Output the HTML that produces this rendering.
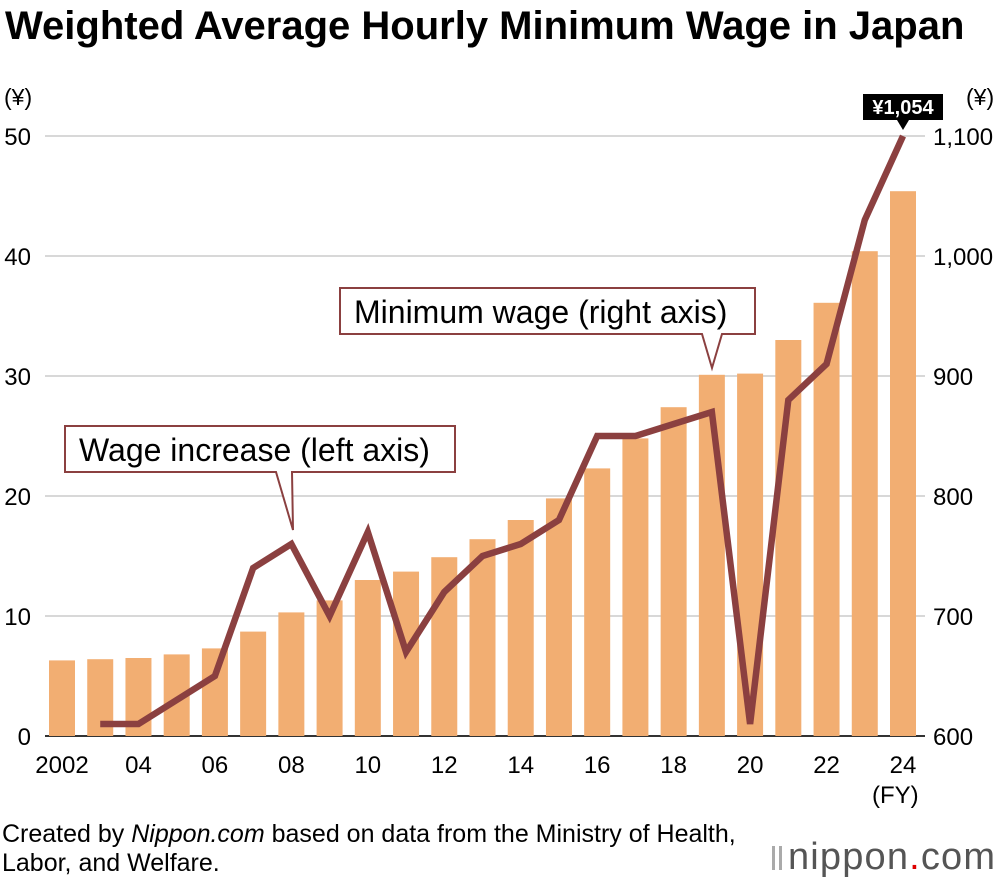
<!DOCTYPE html>
<html><head><meta charset="utf-8"><style>
body{margin:0;background:#fff;width:1000px;height:880px;overflow:hidden;font-family:"Liberation Sans",Arial,sans-serif}
svg{display:block}
</style></head><body>
<svg id="c" width="1000" height="880">
<text x="5" y="39" font-size="40" font-weight="bold" fill="#000">Weighted Average Hourly Minimum Wage in Japan</text>
<g id="grid"></g><g id="bars"></g><g id="line"></g><g id="axes"></g>
<text x="4" y="105" font-size="23">(¥)</text>
<text x="966" y="105" font-size="23">(¥)</text>
<text x="872" y="803" font-size="24">(FY)</text>
<g>
<path d="M340,288 H755 V334 H722 L712,368 L702,334 H340 Z" fill="#fff" stroke="#8b4040" stroke-width="2"/>
<text x="354" y="323" font-size="32">Minimum wage (right axis)</text></g>
<g>
<path d="M65,426 H455 V472 H292 L293,530 L276,472 H65 Z" fill="#fff" stroke="#8b4040" stroke-width="2"/>
<text x="79" y="461" font-size="32">Wage increase (left axis)</text></g>
<text x="2" y="842" font-size="25">Created by <tspan font-style="italic">Nippon.com</tspan> based on data from the Ministry of Health,</text>
<text x="2" y="871" font-size="25">Labor, and Welfare.</text>
<g><rect x="772" y="846" width="3" height="24" fill="#aaa"/><rect x="779" y="846" width="3" height="24" fill="#aaa"/>
<text x="788" y="869" font-size="38" fill="#555" textLength="207">nippon<tspan fill="#d00">.</tspan>com</text></g>
</svg>
<script>
const years=[2002,2003,2004,2005,2006,2007,2008,2009,2010,2011,2012,2013,2014,2015,2016,2017,2018,2019,2020,2021,2022,2023,2024];
const minWage=[663,664,665,668,673,687,703,713,730,737,749,764,780,798,823,848,874,901,902,930,961,1004,1054];
const incYears=[2003,2004,2005,2006,2007,2008,2009,2010,2011,2012,2013,2014,2015,2016,2017,2018,2019,2020,2021,2022,2023,2024];
const increase=[1,1,3,5,14,16,10,17,7,12,15,16,18,25,25,26,27,1,28,31,43,50];
const leftTicks=[0,10,20,30,40,50];
const rightTicks=["600","700","800","900","1,000","1,100"];
const xTickYears=[2002,2004,2006,2008,2010,2012,2014,2016,2018,2020,2022,2024];
const xTickLabels=["2002","04","06","08","10","12","14","16","18","20","22","24"];
const NS="http://www.w3.org/2000/svg";
const X=y=>62+(y-2002)*(903-62)/22;
const YL=v=>736-v*12;
const YR=v=>736-(v-600)*1.2;
function mk(p,t,a){const e=document.createElementNS(NS,t);for(const k in a)e.setAttribute(k,a[k]);document.getElementById(p).appendChild(e);return e;}
leftTicks.forEach((t,i)=>{
 const g=mk('grid','line',{x1:45,x2:925,y1:YL(t),y2:YL(t),stroke:i==0?'#333':'#ccc','stroke-width':i==0?2:1.5});
 
 
 const l=mk('axes','text',{x:31,y:YL(t)+9,'font-size':24,'text-anchor':'end'});l.textContent=t;
 
 
 const r=mk('axes','text',{x:933,y:YL(t)+9,'font-size':24});r.textContent=rightTicks[i];
 
 
});
xTickYears.forEach((y,i)=>{const t=mk('axes','text',{x:X(y),y:773,'font-size':24,'text-anchor':'middle'});t.textContent=xTickLabels[i];
 
 });
years.forEach((y,i)=>{const b=mk('bars','rect',{x:X(y)-13,width:26,y:YR(minWage[i]),height:736-YR(minWage[i]),fill:'#f2ae72'});
 
 });
const pts=incYears.map((y,i)=>X(y)+','+YL(increase[i])).join(' ');
const pl=mk('line','polyline',{points:pts,fill:'none',stroke:'#8b4040','stroke-width':6.5,'stroke-linejoin':'miter'});


const lx=X(2024),ly=YL(increase[increase.length-1]);
const lb=mk('line','rect',{x:lx-40,y:ly-42,width:80,height:26,fill:'#000'});


mk('line','path',{d:`M${lx-6},${ly-16} L${lx},${ly-6} L${lx+6},${ly-16}Z`,fill:'#000'});
const lt=mk('line','text',{x:lx,y:ly-22,'font-size':20,'font-weight':'bold',fill:'#fff','text-anchor':'middle'});
lt.textContent='¥'+minWage[minWage.length-1].toLocaleString('en-US');


</script>
</body></html>
